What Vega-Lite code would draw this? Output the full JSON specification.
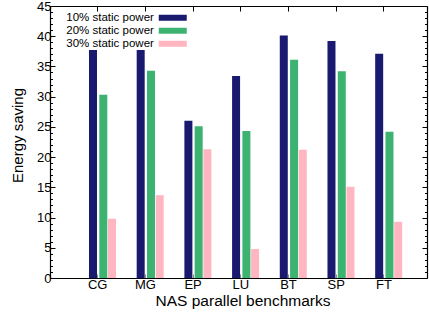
{
  "$schema": "https://vega.github.io/schema/vega-lite/v6.json",
  "width": 377,
  "height": 272,
  "autosize": "none",
  "padding": {"left": 50, "top": 6, "right": 2, "bottom": 35},
  "background": "white",
  "config": {
    "font": "Liberation Sans",
    "view": {"stroke": null},
    "axis": {"grid": false, "labelColor": "black", "titleColor": "black", "titleFontWeight": "normal", "labelFont": "Liberation Sans", "titleFont": "Liberation Sans", "domainColor": "black", "tickColor": "black", "domainWidth": 1.2, "tickWidth": 1}
  },
  "data": {
    "values": [
      {"benchmark": "CG", "series": "10% static power", "saving": 37.7},
      {"benchmark": "CG", "series": "20% static power", "saving": 30.3},
      {"benchmark": "CG", "series": "30% static power", "saving": 9.8},
      {"benchmark": "MG", "series": "10% static power", "saving": 37.7},
      {"benchmark": "MG", "series": "20% static power", "saving": 34.3},
      {"benchmark": "MG", "series": "30% static power", "saving": 13.7},
      {"benchmark": "EP", "series": "10% static power", "saving": 26.0},
      {"benchmark": "EP", "series": "20% static power", "saving": 25.1},
      {"benchmark": "EP", "series": "30% static power", "saving": 21.3},
      {"benchmark": "LU", "series": "10% static power", "saving": 33.4},
      {"benchmark": "LU", "series": "20% static power", "saving": 24.3},
      {"benchmark": "LU", "series": "30% static power", "saving": 4.8},
      {"benchmark": "BT", "series": "10% static power", "saving": 40.1},
      {"benchmark": "BT", "series": "20% static power", "saving": 36.1},
      {"benchmark": "BT", "series": "30% static power", "saving": 21.2},
      {"benchmark": "SP", "series": "10% static power", "saving": 39.2},
      {"benchmark": "SP", "series": "20% static power", "saving": 34.2},
      {"benchmark": "SP", "series": "30% static power", "saving": 15.1},
      {"benchmark": "FT", "series": "10% static power", "saving": 37.1},
      {"benchmark": "FT", "series": "20% static power", "saving": 24.2},
      {"benchmark": "FT", "series": "30% static power", "saving": 9.3}
    ]
  },
  "resolve": {"axis": {"x": "independent", "y": "independent"}},
  "layer": [
    {
      "transform": [{"filter": {"field": "series", "equal": "10% static power"}}],
      "mark": {"type": "bar", "width": 8, "xOffset": -4.7},
      "encoding": {
        "x": {"field": "benchmark", "type": "nominal", "sort": ["CG", "MG", "EP", "LU", "BT", "SP", "FT"],
          "scale": {"paddingInner": 0, "paddingOuter": 0.452, "align": 0.553},
          "axis": {"orient": "bottom", "title": "NAS parallel benchmarks", "titleFontSize": 15.5, "titleX": 192.5, "titleY": 27, "titleBaseline": "alphabetic", "labelAngle": 0, "labelFontSize": 13, "tickSize": -4, "tickColor": "#888", "labelPadding": 4}},
        "y": {"field": "saving", "type": "quantitative", "scale": {"domain": [0, 45], "nice": false},
          "axis": {"orient": "left", "values": [0, 5, 10, 15, 20, 25, 30, 35, 40, 45], "title": "Energy saving", "titleFontSize": 15, "titleAngle": 270, "titleX": -28, "titleY": 129, "titleBaseline": "alphabetic", "labelFontSize": 13, "tickSize": -5, "labelPadding": 4}},
        "color": {"field": "series", "type": "nominal",
          "scale": {"domain": ["10% static power", "20% static power", "30% static power"], "range": ["#191970", "#3cb371", "#ffb6c1"]},
          "legend": {"orient": "none", "legendX": 117, "legendY": 6, "title": null, "padding": 0, "offset": 0,
            "symbolType": "M-3.5,-0.75H3.5V0.75H-3.5Z", "symbolSize": 64, "symbolStrokeWidth": 0, "symbolOpacity": 1,
            "labelAlign": "right", "labelOffset": -24.6, "labelFontSize": 11.5, "labelFont": "Liberation Sans", "labelColor": "black", "labelLimit": 300, "rowPadding": 0}}
      }
    },
    {
      "transform": [{"filter": {"field": "series", "equal": "20% static power"}}],
      "mark": {"type": "bar", "width": 8, "xOffset": 5.6},
      "encoding": {
        "x": {"field": "benchmark", "type": "nominal", "sort": ["CG", "MG", "EP", "LU", "BT", "SP", "FT"],
          "axis": {"orient": "top", "title": null, "labels": false, "tickSize": -5}},
        "y": {"field": "saving", "type": "quantitative",
          "axis": {"orient": "left", "values": [1,2,3,4,6,7,8,9,11,12,13,14,16,17,18,19,21,22,23,24,26,27,28,29,31,32,33,34,36,37,38,39,41,42,43,44], "title": null, "labels": false, "domain": false, "tickSize": -2.5}},
        "color": {"field": "series", "type": "nominal"}
      }
    },
    {
      "transform": [{"filter": {"field": "series", "equal": "30% static power"}}],
      "mark": {"type": "bar", "width": 8, "xOffset": 14.3},
      "encoding": {
        "x": {"field": "benchmark", "type": "nominal", "sort": ["CG", "MG", "EP", "LU", "BT", "SP", "FT"], "axis": null},
        "y": {"field": "saving", "type": "quantitative",
          "axis": {"orient": "right", "values": [0, 5, 10, 15, 20, 25, 30, 35, 40, 45], "title": null, "labels": false, "tickSize": -5}},
        "color": {"field": "series", "type": "nominal"}
      }
    },
    {
      "mark": {"type": "bar", "width": 1, "opacity": 0},
      "encoding": {
        "x": {"field": "benchmark", "type": "nominal", "sort": ["CG", "MG", "EP", "LU", "BT", "SP", "FT"], "axis": null},
        "y": {"field": "saving", "type": "quantitative",
          "axis": {"orient": "right", "values": [1,2,3,4,6,7,8,9,11,12,13,14,16,17,18,19,21,22,23,24,26,27,28,29,31,32,33,34,36,37,38,39,41,42,43,44], "title": null, "labels": false, "domain": false, "tickSize": -2.5}}
      }
    }
  ]
}
